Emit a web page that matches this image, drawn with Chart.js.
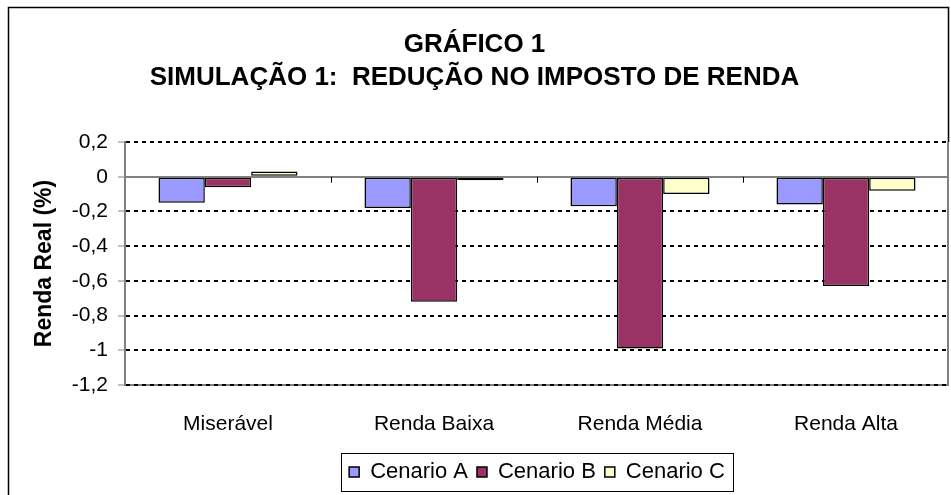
<!DOCTYPE html>
<html>
<head>
<meta charset="utf-8">
<script src="https://cdn.jsdelivr.net/npm/chart.js@4"></script>
<style>
  body { margin: 0; background: #fff; }
  #wrap { width: 951px; height: 495px; }
</style>
</head>
<body>
<div id="wrap"><canvas id="chart" width="951" height="495"></canvas></div>
<script>
const categories = ['Miserável', 'Renda Baixa', 'Renda Média', 'Renda Alta'];
const seriesNames = ['Cenario A', 'Cenario B', 'Cenario C'];
const cenarioA = [-0.15, -0.18, -0.17, -0.16];
const cenarioB = [-0.06, -0.72, -0.99, -0.63];
const cenarioC = [0.03, -0.02, -0.10, -0.08];
const yTicks = [0.2, 0, -0.2, -0.4, -0.6, -0.8, -1, -1.2];
const titleLines = ['GRÁFICO 1', 'SIMULAÇÃO 1:  REDUÇÃO NO IMPOSTO DE RENDA'];

const FONT = "'Liberation Sans', Arial, sans-serif";

// dashed gridlines except the zero line
const isDashed = c => !!(c.tick && c.tick.value !== 0);

// frame, plot border, category ticks on zero line, legend box
const excelBits = {
  id: 'excelBits',
  afterLayout(chart) {
    // excel centres the legend under the plot area, not the whole chart
    const a = chart.chartArea, lg = chart.legend;
    const shift = (a.left + a.right) / 2 - (lg.left + lg.right) / 2;
    lg.left += shift;
    lg.right += shift;
  },
  beforeDraw(chart) {
    const ctx = chart.ctx;
    const a = chart.chartArea;
    ctx.save();
    ctx.fillStyle = '#fff';
    ctx.fillRect(0, 0, chart.width, chart.height);
    // gray plot bottom, dashed gridline goes on top of it
    ctx.strokeStyle = '#808080';
    ctx.lineWidth = 2;
    ctx.beginPath();
    ctx.moveTo(a.left, a.bottom);
    ctx.lineTo(a.right, a.bottom);
    ctx.stroke();
    ctx.restore();
  },
  afterDraw(chart) {
    const ctx = chart.ctx;
    const a = chart.chartArea;
    const x = chart.scales.x, y = chart.scales.y;
    ctx.save();
    // outer frame
    ctx.strokeStyle = '#000';
    ctx.lineWidth = 1.5;
    ctx.beginPath();
    ctx.moveTo(8.5, 500);
    ctx.lineTo(8.5, 7.5);
    ctx.lineTo(a.right - 0.5, 7.5);
    ctx.lineTo(a.right - 0.5, a.top);
    ctx.stroke();
    // plot area right edge
    ctx.strokeStyle = '#808080';
    ctx.lineWidth = 2;
    ctx.beginPath();
    ctx.moveTo(a.right - 1, a.top);
    ctx.lineTo(a.right - 1, a.bottom);
    ctx.stroke();
    // category ticks at zero
    const y0 = y.getPixelForValue(0);
    ctx.lineWidth = 1;
    ctx.strokeStyle = '#000';
    for (let i = 0; i < categories.length - 1; i++) {
      const bx = Math.round((x.getPixelForValue(i) + x.getPixelForValue(i + 1)) / 2) + 0.5;
      ctx.beginPath();
      ctx.moveTo(bx, y0);
      ctx.lineTo(bx, y0 + 6);
      ctx.stroke();
    }
    // legend border
    const boxes = chart.legend.legendHitBoxes;
    if (boxes && boxes.length) {
      const l = Math.min(...boxes.map(b => b.left)) - 8;
      const r = Math.max(...boxes.map(b => b.left + b.width)) + 8;
      const t = Math.min(...boxes.map(b => b.top)) - 8;
      const bt = Math.max(...boxes.map(b => b.top + b.height)) + 8;
      ctx.strokeStyle = '#000';
      ctx.lineWidth = 1;
      ctx.strokeRect(Math.round(l) + 0.5, Math.round(t) + 0.5, Math.round(r - l), Math.round(bt - t));
    }
    ctx.restore();
  }
};

const makeSet = (label, data, color) => ({
  label: label,
  data: data,
  backgroundColor: color,
  borderColor: '#000',
  borderWidth: 1.5,
  borderSkipped: false
});

new Chart(document.getElementById('chart'), {
  type: 'bar',
  data: {
    labels: categories,
    datasets: [
      makeSet(seriesNames[0], cenarioA, '#9999FF'),
      makeSet(seriesNames[1], cenarioB, '#993366'),
      makeSet(seriesNames[2], cenarioC, '#FFFFCC')
    ]
  },
  options: {
    responsive: false,
    animation: false,
    layout: { padding: { left: 0, right: 2, top: 0, bottom: 2 } },
    datasets: { bar: { categoryPercentage: 0.675, barPercentage: 1 } },
    plugins: {
      title: {
        display: true,
        text: titleLines,
        color: '#000',
        font: { family: FONT, size: 26, weight: 'bold', lineHeight: 1.27 },
        padding: { top: 28, bottom: 48 }
      },
      legend: {
        position: 'bottom',
        labels: {
          color: '#000',
          font: { family: FONT, size: 22 },
          boxWidth: 10,
          boxHeight: 10,
          padding: 9
        }
      },
      tooltip: { enabled: false }
    },
    scales: {
      x: {
        grid: { display: false },
        border: { display: false },
        ticks: { color: '#000', font: { family: FONT, size: 21 }, padding: 19 },
        afterFit(s) { s.height = 67; }
      },
      y: {
        min: -1.2,
        max: 0.2,
        afterBuildTicks(s) { s.ticks = yTicks.map(v => ({ value: v })); },
        ticks: {
          color: '#000',
          font: { family: FONT, size: 21 },
          padding: 10,
          callback: v => String(Math.round(v * 10) / 10).replace('.', ',')
        },
        grid: {
          color: c => (c.tick && c.tick.value === 0) ? '#808080' : '#000',
          lineWidth: 2,
          borderDash: c => isDashed(c) ? [4, 4] : [],
          tickColor: '#808080',
          tickLength: 7,
          tickWidth: 1,
          tickBorderDash: []
        },
        border: {
          color: '#808080',
          width: 2,
          dash: c => isDashed(c) ? [4, 4] : []
        },
        title: {
          display: true,
          text: 'Renda Real (%)',
          color: '#000',
          font: { family: FONT, size: 23, weight: 'bold' },
          padding: { top: 31, bottom: 0 }
        },
        afterFit(s) { s.width = 125; }
      }
    }
  },
  plugins: [excelBits]
});
</script>
</body>
</html>
